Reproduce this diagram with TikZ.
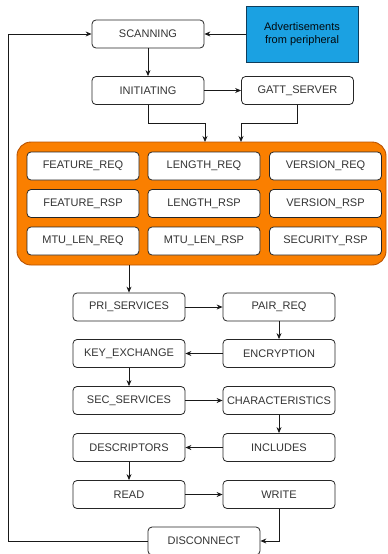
\documentclass[tikz,border=0pt]{standalone}
\usepackage{fontspec}
\setmainfont{Liberation Sans}
\usetikzlibrary{arrows.meta}
\definecolor{txt}{HTML}{333333}
\definecolor{orfill}{HTML}{FA7F00}
\definecolor{ordraw}{HTML}{B85200}
\definecolor{advfill}{HTML}{1BA1E2}
\definecolor{advdraw}{HTML}{0F3D5C}
\tikzset{
  box/.style={draw=black!85, fill=white, rounded corners=4pt, line width=0.8pt,
    minimum width=112pt, minimum height=28pt, inner sep=0pt,
    font=\fontsize{11pt}{13pt}\selectfont, text=txt},
  conn/.style={line width=0.8pt, draw=black!90, -{Stealth[length=6pt,width=5pt]}},
  line/.style={line width=0.8pt, draw=black!90}
}
\begin{document}
\begin{tikzpicture}[x=1pt,y=-1pt]
\useasboundingbox (0,0) rectangle (388,554);
% top
\node[box] (scan) at (148,34) {SCANNING};
\node[draw=advdraw, fill=advfill, line width=0.8pt, minimum width=112pt, minimum height=56pt, inner sep=0pt,
  align=center, font=\fontsize{11pt}{13pt}\selectfont, text=black!85!advdraw] (adv) at (302,34) {Advertisements\\from peripheral};
\node[box] (init) at (148,90.5) {INITIATING};
\node[box] (gatt) at (297.5,90.5) {GATT\_SERVER};
% orange container
\node[draw=ordraw, fill=orfill, line width=0.9pt, rounded corners=14pt, minimum width=369pt, minimum height=123pt, inner sep=0pt] (grp) at (201.5,203.5) {};
\node[box] (freq) at (83,166) {FEATURE\_REQ};
\node[box] (lreq) at (204,166) {LENGTH\_REQ};
\node[box] (vreq) at (325.5,166) {VERSION\_REQ};
\node[box] (frsp) at (83,203.5) {FEATURE\_RSP};
\node[box] (lrsp) at (204,203.5) {LENGTH\_RSP};
\node[box] (vrsp) at (325.5,203.5) {VERSION\_RSP};
\node[box] (mreq) at (83,241) {MTU\_LEN\_REQ};
\node[box] (mrsp) at (204,241) {MTU\_LEN\_RSP};
\node[box] (srsp) at (325.5,241) {SECURITY\_RSP};
% lower
\node[box] (pri) at (129,307) {PRI\_SERVICES};
\node[box] (pair) at (279,307) {PAIR\_REQ};
\node[box] (key) at (129,353.5) {KEY\_EXCHANGE};
\node[box] (enc) at (279,353.5) {ENCRYPTION};
\node[box] (sec) at (129,400.5) {SEC\_SERVICES};
\node[box] (chr) at (279,400.5) {CHARACTERISTICS};
\node[box] (desc) at (129,447.5) {DESCRIPTORS};
\node[box] (incl) at (279,447.5) {INCLUDES};
\node[box] (read) at (129,494.5) {READ};
\node[box] (write) at (279,494.5) {WRITE};
\node[box] (disc) at (204,541) {DISCONNECT};
% connectors
\draw[conn] (adv) -- (scan);
\draw[conn] (scan) -- (init);
\draw[conn] (init) -- (gatt);
\draw[conn] (init.south) |- (205,123) -- (205,142);
\draw[conn] (gatt.south) |- (241,123) -- (241,142);
\draw[conn] (129,265) -- (pri.north);
\draw[conn] (pri) -- (pair);
\draw[conn] (pair) -- (enc);
\draw[conn] (enc) -- (key);
\draw[conn] (key) -- (sec);
\draw[conn] (sec) -- (chr);
\draw[conn] (chr) -- (incl);
\draw[conn] (incl) -- (desc);
\draw[conn] (desc) -- (read);
\draw[conn] (read) -- (write);
\draw[conn] (write.south) |- (disc.east);
\coordinate (lb) at (8,541);
\coordinate (lt) at (8,34);
\draw[conn] (disc.west) -- (lb) -- (lt) -- (scan.west);
\end{tikzpicture}
\end{document}
